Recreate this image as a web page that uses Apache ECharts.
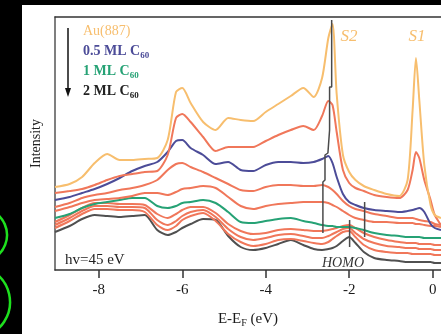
<!DOCTYPE html>
<html>
<head>
<meta charset="utf-8">
<script src="https://cdn.jsdelivr.net/npm/echarts@6/dist/echarts.min.js"></script>
<style>
  html, body { margin: 0; padding: 0; background: #fff; }
  #chart { width: 441px; height: 334px; }
</style>
</head>
<body>
<div id="chart"></div>
<script>
// Binding energy grid (eV, relative to E_F)
const energy = [-9.05, -8.7, -8.4, -8.1, -7.8, -7.5, -7.2, -6.9, -6.6, -6.35, -6.15, -6.0, -5.8, -5.5, -5.2, -4.9, -4.6, -4.3, -4.0, -3.7, -3.4, -3.1, -2.85, -2.65, -2.5, -2.4, -2.3, -2.15, -2.0, -1.85, -1.65, -1.4, -1.1, -0.8, -0.6, -0.48, -0.4, -0.32, -0.2, -0.05, 0.05, 0.2];

// Photoemission intensity (arb. units, stacked), clean Au(887) down to 2 ML C60
const auClean = [83, 86, 93, 107, 116, 110, 110, 111, 112, 130, 178, 182, 167, 148, 140, 152, 150, 149, 158, 166, 174, 182, 173, 192, 232, 246, 176, 115, 98, 90, 84, 80, 76, 74, 90, 160, 212, 170, 105, 65, 55, 52];
const step1 = [77, 79, 81, 85, 90, 94, 96, 98, 99, 115, 152, 156, 148, 133, 119, 123, 123, 123, 129, 135, 140, 144, 140, 154, 169, 165, 138, 100, 87, 82, 79, 75, 73, 72, 80, 100, 118, 112, 90, 70, 55, 45];
const ml05 = [70, 73, 77, 81, 86, 92, 99, 104, 108, 118, 129, 130, 122, 115, 106, 108, 100, 99, 105, 108, 108, 107, 108, 111, 114, 107, 93, 76, 68, 65, 62, 60, 59, 58, 59, 60, 61, 62, 58, 46, 42, 40];
const step3 = [63, 67, 72, 75, 77, 80, 82, 85, 90, 100, 106, 107, 103, 98, 92, 86, 80, 79, 83, 85, 85, 84, 84, 85, 83, 80, 76, 69, 64, 61, 59, 56, 54, 52, 52, 52, 51, 50, 49, 48, 46, 45];
const step4 = [59, 63, 67, 70, 71, 72, 74, 77, 77, 75, 78, 81, 82, 84, 82, 73, 64, 61, 64, 66, 67, 68, 68, 68, 67, 65, 63, 59, 55, 52, 50, 48, 48, 47, 47, 47, 46, 46, 45, 44, 44, 43];
const ml1 = [52, 56, 62, 66, 68, 70, 72, 72, 64, 62, 64, 67, 68, 70, 67, 58, 48, 47, 49, 51, 52, 49, 47, 45, 44, 44, 43, 43, 43, 42, 40, 37, 35, 34, 33, 33, 33, 33, 32, 32, 32, 32];
const step6 = [48, 55, 62, 67, 67, 66, 66, 65, 56, 52, 56, 60, 63, 63, 57, 46, 39, 36, 37, 40, 41, 40, 39, 39, 40, 41, 42, 44, 45, 42, 37, 33, 30, 28, 27, 27, 27, 26, 26, 26, 25, 25];
const step7 = [45, 52, 59, 64, 64, 63, 63, 62, 50, 45, 49, 54, 58, 60, 53, 41, 33, 30, 32, 35, 36, 34, 32, 32, 34, 36, 38, 41, 42, 37, 31, 27, 24, 23, 22, 22, 22, 21, 21, 21, 20, 20];
const step8 = [42, 49, 56, 61, 61, 60, 60, 58, 45, 40, 44, 50, 54, 57, 49, 36, 28, 24, 26, 30, 31, 29, 27, 26, 28, 31, 34, 38, 39, 33, 25, 20, 18, 17, 17, 16, 16, 16, 16, 16, 15, 15];
const ml2 = [38, 44, 51, 55, 54, 53, 54, 55, 40, 35, 38, 42, 46, 51, 50, 34, 23, 20, 22, 26, 30, 25, 21, 20, 21, 22, 24, 29, 33, 27, 18, 12, 10, 9, 8, 8, 8, 8, 8, 8, 7, 7];

const xTicks = [-8, -6, -4, -2, 0];

// Peak-position guide lines: [energy, intensity] pairs
const s2Guide = [[-2.42, 250], [-2.42, 183], [-2.47, 183], [-2.47, 140], [-2.51, 140], [-2.51, 117], [-2.58, 115], [-2.58, 90], [-2.63, 88], [-2.63, 37]];
const homoGuide = [[-1.99, 50], [-1.99, 23]];
const shoulderGuide = [[-1.63, 68], [-1.63, 33]];

const ORANGE = '#F7BE6E', SALMON = '#F0775A', BLUE = '#4C4C98', GREEN = '#26A275', GREY = '#505050';

const curves = [
  [auClean, ORANGE], [step1, SALMON], [ml05, BLUE], [step3, SALMON], [step4, SALMON],
  [ml1, GREEN], [step6, SALMON], [step7, SALMON], [step8, SALMON], [ml2, GREY]
];

const serif = '"Liberation Serif", "DejaVu Serif", serif';

const series = curves.map(([vals, color]) => ({
  type: 'line',
  data: energy.map((e, i) => [e, vals[i]]),
  smooth: 0.25,
  showSymbol: false,
  lineStyle: { color: color, width: 2 },
  silent: true
})).reverse();

[s2Guide, homoGuide, shoulderGuide].forEach(seg => {
  series.push({
    type: 'line', data: seg, showSymbol: false, silent: true, z: 5,
    lineStyle: { color: '#4a4a4a', width: 1.5 }
  });
});

const chart = echarts.init(document.getElementById('chart'), null, { renderer: 'canvas' });
chart.setOption({
  animation: false,
  backgroundColor: '#ffffff',
  grid: { left: 55, top: 17, right: 0, bottom: 64 },
  xAxis: [{
    type: 'value', min: -9.05, max: 0.2,
    axisLine: { onZero: false, lineStyle: { color: '#333', width: 1.5 } },
    axisTick: { customValues: xTicks, length: 8, lineStyle: { color: '#333', width: 1.5 } },
    axisLabel: { customValues: xTicks, fontFamily: serif, fontSize: 15, color: '#1a1a1a', margin: 13 },
    splitLine: { show: false },
    name: 'E-E{sub|F} (eV)',
    nameLocation: 'middle', nameGap: 40,
    nameTextStyle: { fontFamily: serif, fontSize: 15, color: '#1a1a1a',
      rich: { sub: { fontFamily: serif, fontSize: 10, color: '#1a1a1a', verticalAlign: 'bottom', padding: [8, 0, 0, 0] } } }
  }, {
    type: 'value', min: -9.05, max: 0.2, position: 'top',
    axisLine: { show: true, onZero: false, lineStyle: { color: '#333', width: 1.5 } },
    axisTick: { show: false }, axisLabel: { show: false }, splitLine: { show: false }
  }],
  yAxis: {
    type: 'value', min: 0, max: 253,
    axisLine: { show: true, onZero: false, lineStyle: { color: '#555', width: 1.5 } },
    axisTick: { show: false }, axisLabel: { show: false }, splitLine: { show: false },
    name: 'Intensity', nameLocation: 'middle', nameGap: 12, nameRotate: 90,
    nameTextStyle: { fontFamily: serif, fontSize: 14, color: '#222' }
  },
  series: series,
  graphic: [
    // dark outer frame
    { type: 'rect', shape: { x: 0, y: 0, width: 22, height: 334 }, style: { fill: '#000' }, z: 100 },
    { type: 'rect', shape: { x: 0, y: 0, width: 441, height: 5 }, style: { fill: '#000' }, z: 100 },
    { type: 'arc', shape: { cx: -20, cy: 235, r: 27, startAngle: -1.2, endAngle: 1.2 }, style: { stroke: '#1ee01e', lineWidth: 2.5, fill: null }, z: 101 },
    { type: 'arc', shape: { cx: -26, cy: 302, r: 36, startAngle: -1.0, endAngle: 1.0 }, style: { stroke: '#1ee01e', lineWidth: 2.5, fill: null }, z: 101 },
    // coverage legend
    { type: 'line', shape: { x1: 68, y1: 28, x2: 68, y2: 90 }, style: { stroke: '#111', lineWidth: 1.5 }, z: 50 },
    { type: 'polygon', shape: { points: [[65, 88], [71, 88], [68, 97]] }, style: { fill: '#111' }, z: 50 },
    { type: 'text', x: 83, y: 31, style: { text: 'Au(887)', fill: ORANGE, font: '14px ' + serif, verticalAlign: 'middle' }, z: 50 },
    { type: 'text', x: 83, y: 51, style: { text: '0.5 ML C{s|60}', fill: BLUE, font: 'bold 14px ' + serif, verticalAlign: 'middle',
      rich: { s: { fill: BLUE, font: 'bold 9px ' + serif, padding: [9, 0, 0, 0] } } }, z: 50 },
    { type: 'text', x: 83, y: 71, style: { text: '1 ML C{s|60}', fill: GREEN, font: 'bold 14px ' + serif, verticalAlign: 'middle',
      rich: { s: { fill: GREEN, font: 'bold 9px ' + serif, padding: [9, 0, 0, 0] } } }, z: 50 },
    { type: 'text', x: 83, y: 91, style: { text: '2 ML C{s|60}', fill: '#222', font: 'bold 14px ' + serif, verticalAlign: 'middle',
      rich: { s: { fill: '#222', font: 'bold 9px ' + serif, padding: [9, 0, 0, 0] } } }, z: 50 },
    // peak annotations
    { type: 'text', x: 349, y: 37, style: { text: 'S2', fill: ORANGE, font: 'italic 17px ' + serif, align: 'center', verticalAlign: 'middle' }, z: 50 },
    { type: 'text', x: 417, y: 37, style: { text: 'S1', fill: ORANGE, font: 'italic 17px ' + serif, align: 'center', verticalAlign: 'middle' }, z: 50 },
    { type: 'text', x: 343, y: 263, style: { text: 'HOMO', fill: '#333', font: 'italic 14px ' + serif, align: 'center', verticalAlign: 'middle' }, z: 50 },
    { type: 'text', x: 65, y: 260, style: { text: 'hv=45 eV', fill: '#222', font: '15px ' + serif, verticalAlign: 'middle' }, z: 50 }
  ]
});
</script>
</body>
</html>
